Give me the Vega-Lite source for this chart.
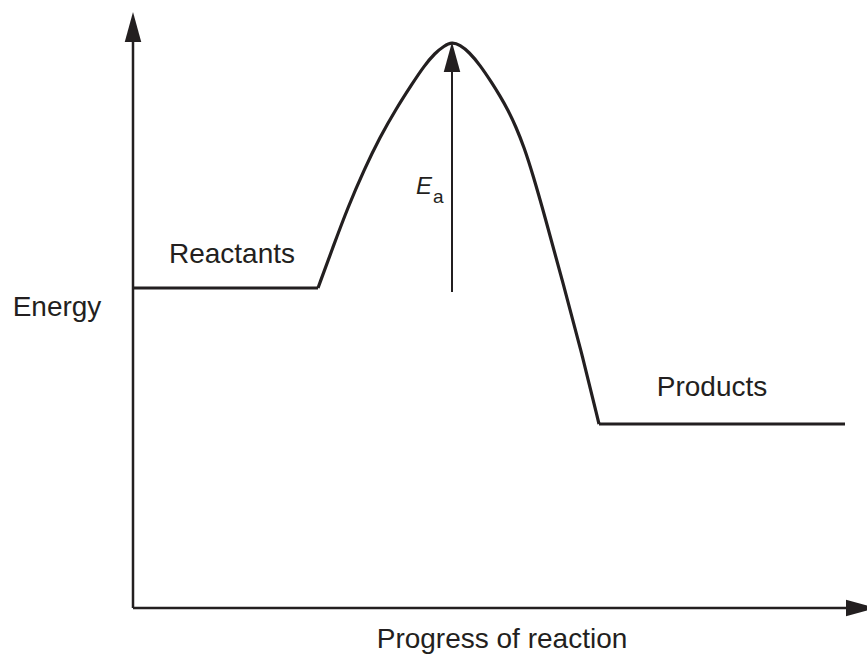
{
  "$schema": "https://vega.github.io/schema/vega-lite/v6.json",
  "width": 867,
  "height": 657,
  "autosize": {"type": "none"},
  "padding": 0,
  "background": "white",
  "view": {"stroke": null},
  "config": {"font": "Liberation Sans"},
  "datasets": {
    "axes": [
      {"name": "energy axis", "progress": 0, "energy": 0, "progress2": 0, "energy2": 568},
      {"name": "progress axis", "progress": 0, "energy": 0, "progress2": 714, "energy2": 0}
    ],
    "ea": [
      {"name": "Ea", "progress": 319, "energy": 316, "progress2": 319, "energy2": 536}
    ],
    "profile": [
      {"segment": "reactants", "progress": 0, "energy": 320},
      {"segment": "reactants", "progress": 185, "energy": 320},
      {"segment": "barrier", "progress": 185, "energy": 320},
      {"segment": "barrier", "progress": 200, "energy": 361},
      {"segment": "barrier", "progress": 215, "energy": 401},
      {"segment": "barrier", "progress": 231, "energy": 438},
      {"segment": "barrier", "progress": 247, "energy": 471},
      {"segment": "barrier", "progress": 263, "energy": 499},
      {"segment": "barrier", "progress": 279, "energy": 524},
      {"segment": "barrier", "progress": 291, "energy": 542},
      {"segment": "barrier", "progress": 302, "energy": 555},
      {"segment": "barrier", "progress": 311, "energy": 562},
      {"segment": "barrier", "progress": 319, "energy": 566},
      {"segment": "barrier", "progress": 327, "energy": 563},
      {"segment": "barrier", "progress": 336, "energy": 556},
      {"segment": "barrier", "progress": 347, "energy": 543},
      {"segment": "barrier", "progress": 359, "energy": 525},
      {"segment": "barrier", "progress": 367, "energy": 512},
      {"segment": "barrier", "progress": 375, "energy": 498},
      {"segment": "barrier", "progress": 383, "energy": 481},
      {"segment": "barrier", "progress": 391, "energy": 461},
      {"segment": "barrier", "progress": 400, "energy": 433},
      {"segment": "barrier", "progress": 412, "energy": 391},
      {"segment": "barrier", "progress": 430, "energy": 325},
      {"segment": "barrier", "progress": 448, "energy": 258},
      {"segment": "barrier", "progress": 466, "energy": 184},
      {"segment": "products", "progress": 466, "energy": 184},
      {"segment": "products", "progress": 712, "energy": 184}
    ],
    "arrowsUp": [
      {"name": "energy axis head", "progress": 0, "energy": 581},
      {"name": "Ea head", "progress": 319, "energy": 551}
    ],
    "arrowsRight": [
      {"name": "progress axis head", "progress": 728, "energy": 0}
    ],
    "labels": [
      {"label": "Energy", "progress": -76, "energy": 292},
      {"label": "Reactants", "progress": 99, "energy": 345},
      {"label": "Products", "progress": 579, "energy": 212},
      {"label": "Progress of reaction", "progress": 369, "energy": -40}
    ],
    "symbolE": [
      {"label": "E", "progress": 299, "energy": 414}
    ],
    "symbolSub": [
      {"label": "a", "progress": 300, "energy": 405}
    ]
  },
  "encoding": {
    "x": {"field": "progress", "type": "quantitative", "scale": {"domain": [-133, 734], "nice": false, "zero": false}, "axis": null},
    "y": {"field": "energy", "type": "quantitative", "scale": {"domain": [-49, 608], "nice": false, "zero": false}, "axis": null}
  },
  "layer": [
    {
      "data": {"name": "axes"},
      "mark": {"type": "rule", "color": "#231f20", "strokeWidth": 2.5},
      "encoding": {
        "x2": {"field": "progress2"},
        "y2": {"field": "energy2"}
      }
    },
    {
      "data": {"name": "ea"},
      "mark": {"type": "rule", "color": "#231f20", "strokeWidth": 2},
      "encoding": {
        "x2": {"field": "progress2"},
        "y2": {"field": "energy2"}
      }
    },
    {
      "data": {"name": "profile"},
      "mark": {"type": "line", "color": "#231f20", "strokeWidth": 3.2, "interpolate": "basis", "strokeJoin": "miter"},
      "encoding": {
        "detail": {"field": "segment", "type": "nominal"}
      }
    },
    {
      "data": {"name": "arrowsUp"},
      "mark": {"type": "point", "shape": "M0,-1L0.55,1L-0.55,1Z", "size": 900, "filled": true, "color": "#231f20", "opacity": 1}
    },
    {
      "data": {"name": "arrowsRight"},
      "mark": {"type": "point", "shape": "M0,-1L0.55,1L-0.55,1Z", "size": 900, "angle": 90, "filled": true, "color": "#231f20", "opacity": 1}
    },
    {
      "data": {"name": "labels"},
      "mark": {"type": "text", "fontSize": 28, "align": "center", "baseline": "alphabetic", "color": "#231f20", "font": "Liberation Sans"},
      "encoding": {"text": {"field": "label"}}
    },
    {
      "data": {"name": "symbolE"},
      "mark": {"type": "text", "fontSize": 24, "fontStyle": "italic", "align": "right", "baseline": "alphabetic", "color": "#231f20", "font": "Liberation Sans"},
      "encoding": {"text": {"field": "label"}}
    },
    {
      "data": {"name": "symbolSub"},
      "mark": {"type": "text", "fontSize": 19, "align": "left", "baseline": "alphabetic", "color": "#231f20", "font": "Liberation Sans"},
      "encoding": {"text": {"field": "label"}}
    }
  ]
}
